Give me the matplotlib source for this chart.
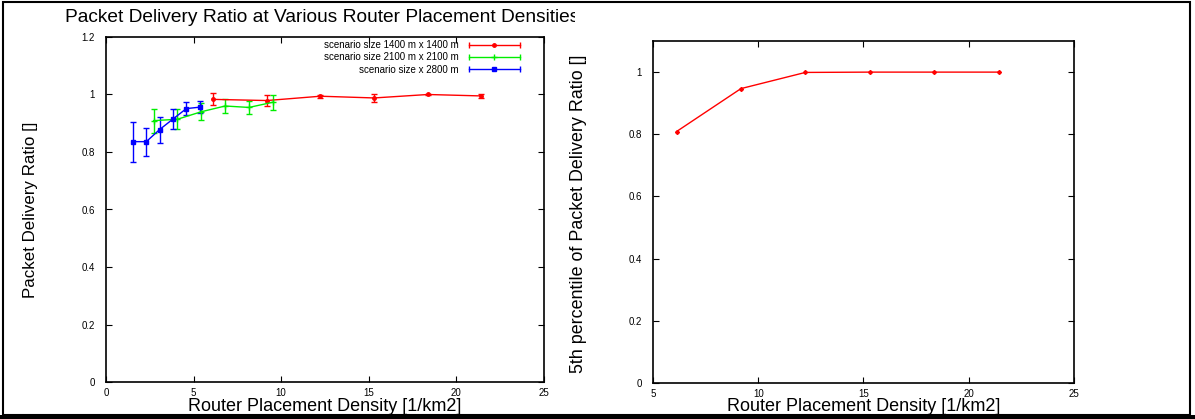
import matplotlib
matplotlib.use("Agg")
import matplotlib.pyplot as plt
from matplotlib.lines import Line2D
from matplotlib.patches import Rectangle
from matplotlib.legend_handler import HandlerLine2D
from matplotlib.transforms import Bbox

plt.rcParams['font.family'] = ['Liberation Sans', 'DejaVu Sans']

# router densities per scenario [1/km2]
density_1400 = [6.12, 9.18, 12.24, 15.31, 18.37, 21.43]
density_2100 = [2.72, 4.08, 5.44, 6.80, 8.16, 9.52]
density_2800 = [1.53, 2.30, 3.06, 3.83, 4.59, 5.36]

# mean packet delivery ratio and error
pdr_1400 = [0.983, 0.979, 0.994, 0.988, 1.0, 0.995]
err_1400 = [0.021, 0.020, 0.005, 0.015, 0.003, 0.006]
pdr_2100 = [0.909, 0.914, 0.940, 0.960, 0.955, 0.973]
err_2100 = [0.042, 0.035, 0.030, 0.023, 0.023, 0.026]
pdr_2800 = [0.836, 0.836, 0.878, 0.915, 0.951, 0.956]
err_2800 = [0.070, 0.049, 0.045, 0.034, 0.024, 0.022]

# 5th percentile for the 1400 m scenario
p5_1400 = [0.808, 0.946, 0.998, 0.999, 0.999, 0.999]

labels = ['scenario size 1400 m x 1400 m',
          'scenario size 2100 m x 2100 m',
          'scenario size x 2800 m']


class CapHandler(HandlerLine2D):
    # gnuplot style key entry: line, point in the middle, caps at both ends
    def create_artists(self, legend, orig_handle, xdescent, ydescent,
                       width, height, fontsize, trans):
        artists = super().create_artists(legend, orig_handle, xdescent, ydescent,
                                         width, height, fontsize, trans)
        y = height / 2 - ydescent
        caps = Line2D([-xdescent, width - xdescent], [y, y], linestyle='none',
                      marker='|', markersize=5, markeredgewidth=1,
                      color=orig_handle.get_color(), transform=trans)
        return list(artists) + [caps]


def style_axes(ax):
    ax.tick_params(direction='in', top=True, right=True, length=4, width=0.8,
                   labelsize=7)
    ax.tick_params(axis='y', pad=8)
    ax.tick_params(axis='x', pad=4)
    for s in ax.spines.values():
        s.set_linewidth(1.2)


fig = plt.figure(figsize=(11.95, 4.19), dpi=100)

ax1 = fig.add_axes([0.0887, 0.0883, 0.3665, 0.8234])
ax2 = fig.add_axes([0.5464, 0.0859, 0.3523, 0.8170])

colors = ['#ff0000', '#00ee00', '#0000ff']
markers = ['o', '+', 's']
msizes = [2.5, 4, 3]
series = [(density_1400, pdr_1400, err_1400),
          (density_2100, pdr_2100, err_2100),
          (density_2800, pdr_2800, err_2800)]

handles = []
for (x, y, e), c, m, ms, lab in zip(series, colors, markers, msizes, labels):
    ax1.errorbar(x, y, yerr=e, color=c, marker=m, markersize=ms, linewidth=1,
                 elinewidth=1, capsize=2.5, capthick=1)
    handles.append(Line2D([], [], color=c, marker=m, markersize=ms, linewidth=1,
                          label=lab))

ax1.set_xlim(0, 25)
ax1.set_ylim(0, 1.2)
ax1.set_xticks([0, 5, 10, 15, 20, 25])
ax1.set_yticks([0, 0.2, 0.4, 0.6, 0.8, 1.0, 1.2])
ax1.set_yticklabels(['0', '0.2', '0.4', '0.6', '0.8', '1', '1.2'])
style_axes(ax1)
ax1.set_xlabel('Router Placement Density [1/km2]', fontsize=13)
ax1.xaxis.set_label_coords(0.5, -0.045)
ax1.set_ylabel('Packet Delivery Ratio []', fontsize=12.2)
ax1.yaxis.set_label_coords(-0.155, 0.5)
ax1.legend(handles=handles, loc='upper right',
           bbox_to_anchor=(1 - 19 / 438, 1 + 2 / 345),
           frameon=False, fontsize=7, markerfirst=False, handlelength=5.2,
           handletextpad=1.1, labelspacing=0.22, borderaxespad=0.15,
           numpoints=1, handler_map={Line2D: CapHandler()})

ax2.plot(density_1400, p5_1400, color='#ff0000', marker='D', markersize=2,
         linewidth=1)
ax2.set_xlim(5, 25)
ax2.set_ylim(0, 1.1)
ax2.set_xticks([5, 10, 15, 20, 25])
ax2.set_yticks([0, 0.2, 0.4, 0.6, 0.8, 1.0])
ax2.set_yticklabels(['0', '0.2', '0.4', '0.6', '0.8', '1'])
style_axes(ax2)
ax2.set_xlabel('Router Placement Density [1/km2]', fontsize=13)
ax2.xaxis.set_label_coords(0.5, -0.045)
ax2.set_ylabel('5th percentile of Packet Delivery Ratio []', fontsize=12.9)
ax2.yaxis.set_label_coords(-0.157, 0.495)

# title of the left panel, cut at the panel edge
title = fig.text(65 / 1195, 1 - 17 / 419,
                 'Packet Delivery Ratio at Various Router Placement Densities',
                 fontsize=13.8, ha='left', va='center')
title.set_clip_box(Bbox([[0, 0], [575, 419]]))
title.set_clip_on(True)

# frame around the whole page
fig.patches.append(Rectangle((3 / 1195, 4 / 419), 1187 / 1195, 413 / 419,
                             transform=fig.transFigure, fill=False,
                             edgecolor='black', linewidth=1.5))
fig.patches.append(Rectangle((0, 0), 1, 4 / 419, transform=fig.transFigure,
                             facecolor='black', edgecolor='none'))

fig.savefig('out.png', dpi=100)
